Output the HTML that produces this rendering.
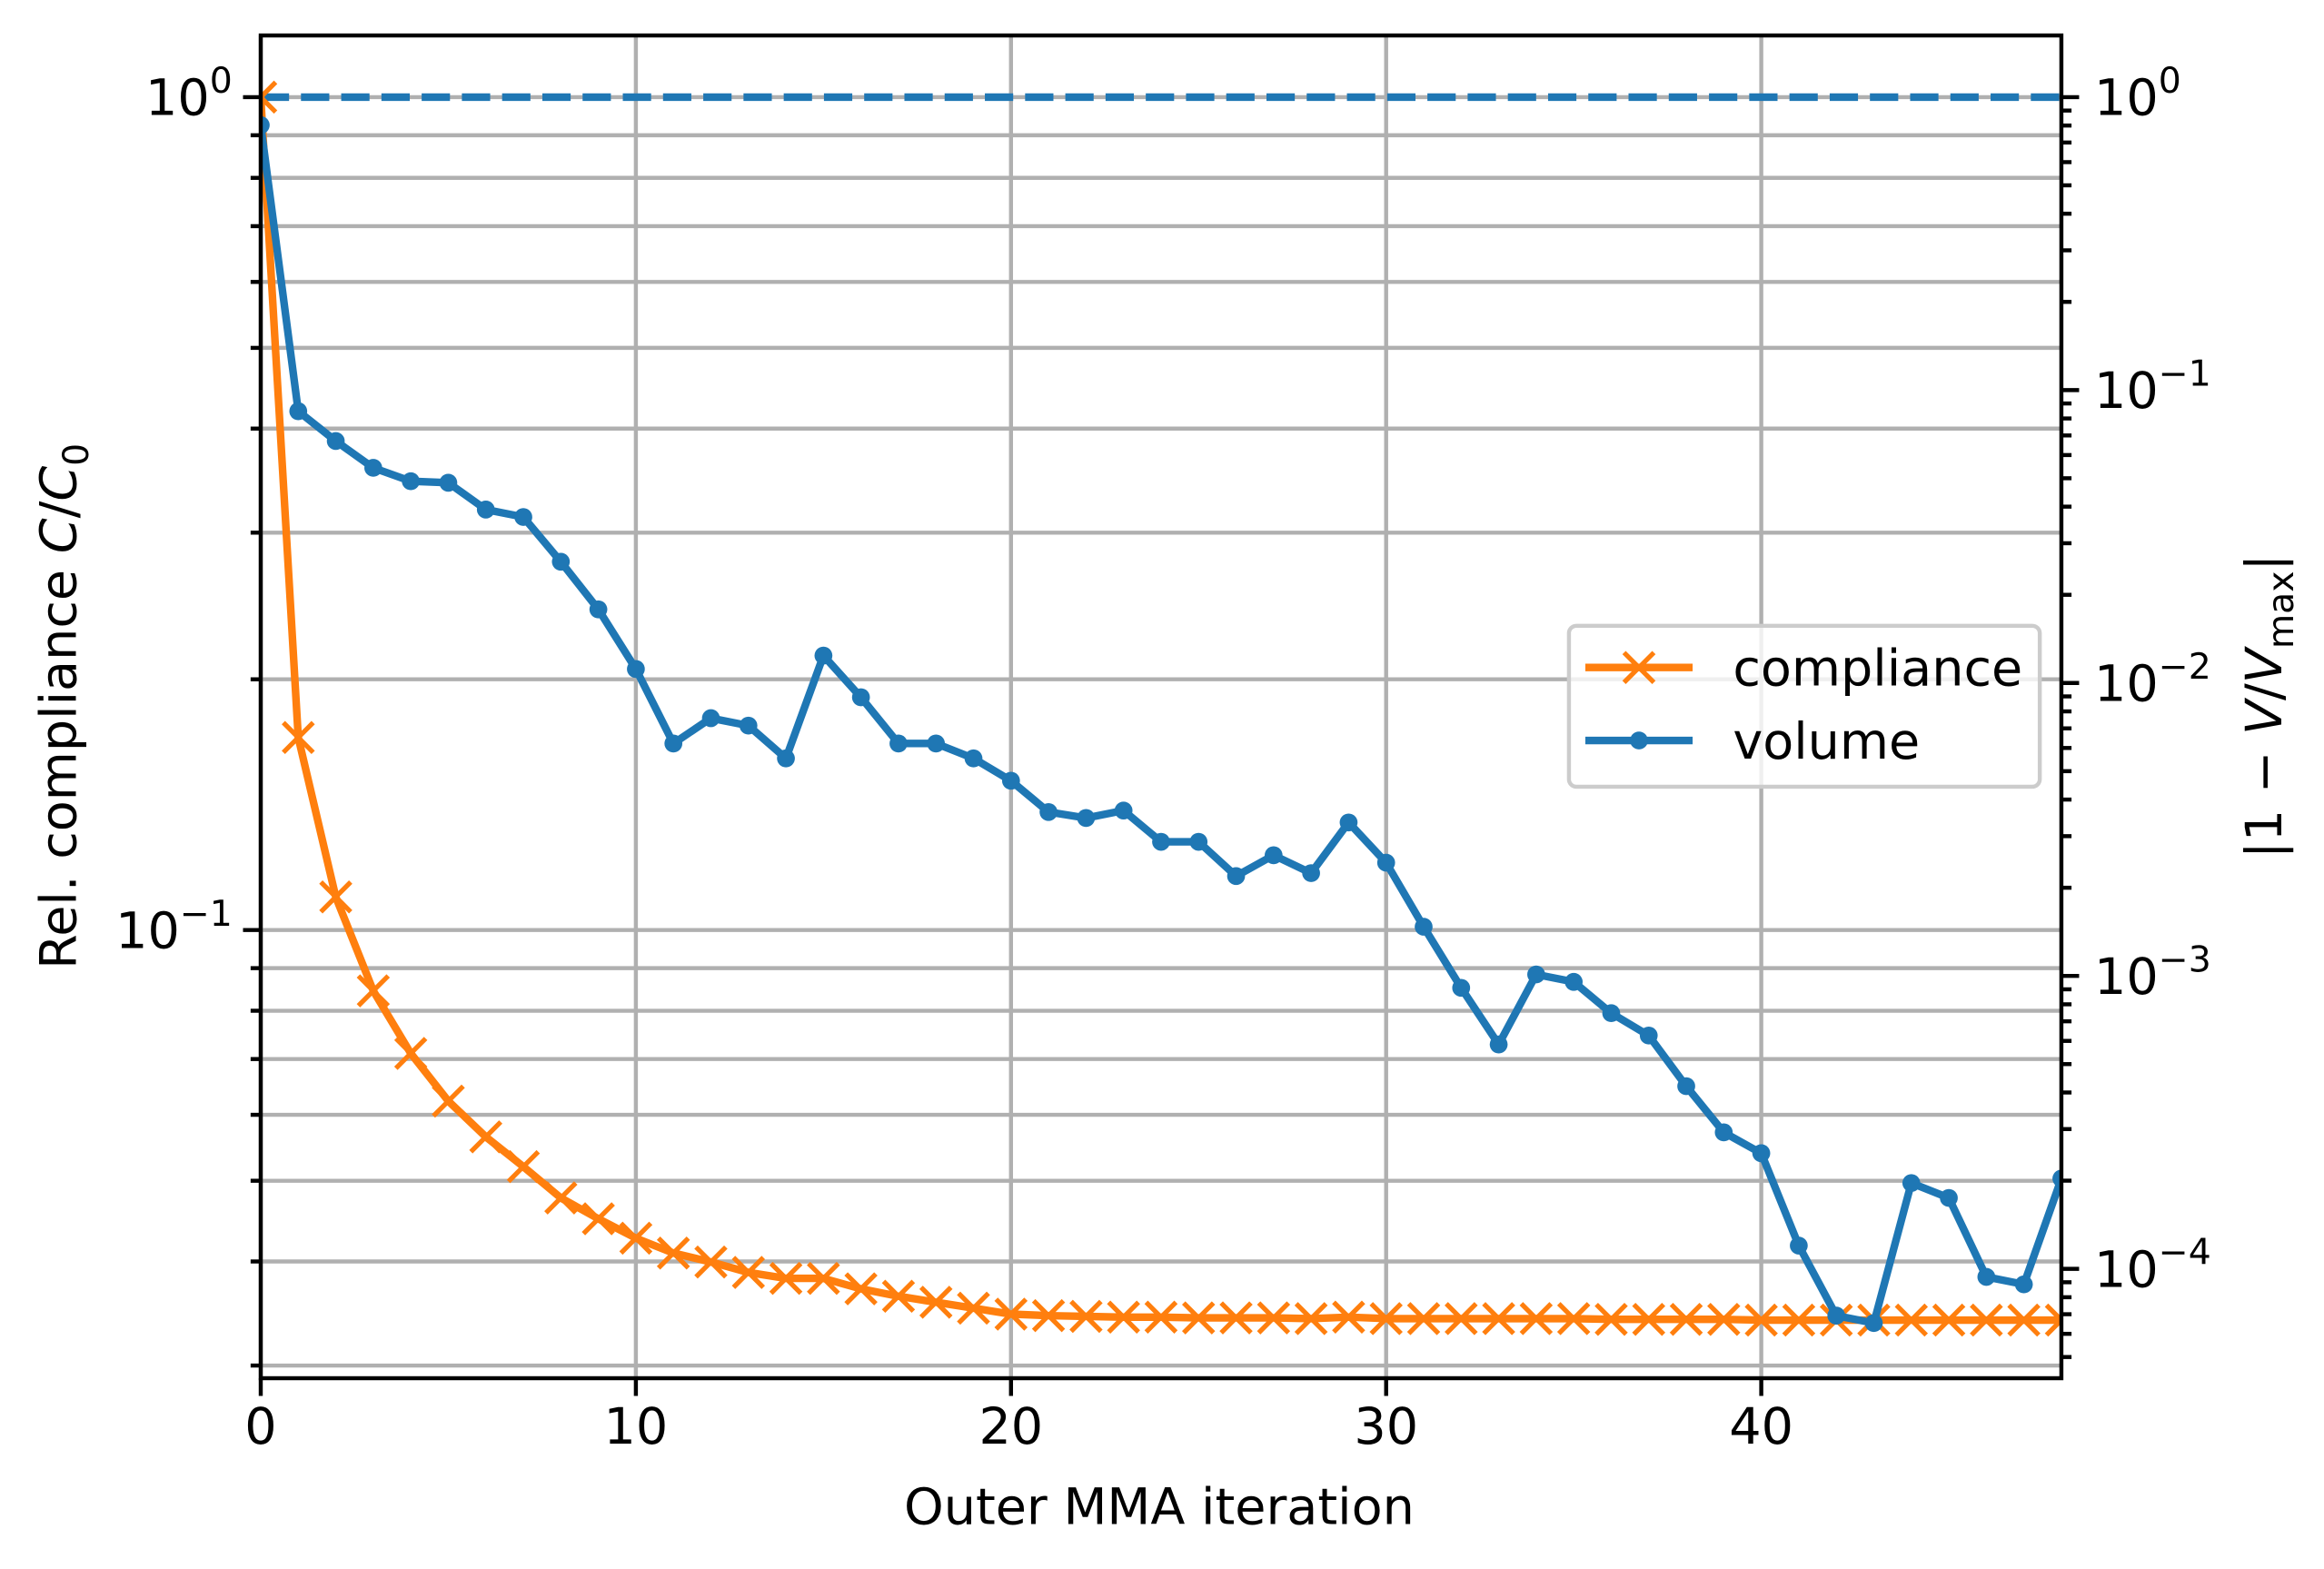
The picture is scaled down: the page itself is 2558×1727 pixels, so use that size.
<!DOCTYPE html>
<html><head><meta charset="utf-8"><style>html,body{margin:0;padding:0;background:#fff}svg{display:block}text{font-family:"DejaVu Sans","Liberation Sans",sans-serif;fill:#000}</style></head>
<body>
<svg id="s" xmlns="http://www.w3.org/2000/svg" width="2558" height="1727" viewBox="0 0 1559.76 1053.05"></svg>
<script>
const s=document.getElementById('s');
const L=175,R=1383.5,T=23.8,B=925;
const X=i=>L+(R-L)*i/48;
const YL=v=>65.2-559*Math.log10(v);
const YR=v=>65.2-196.6*Math.log10(v);
let h='';
h+=`<defs><clipPath id="c"><rect x="${L}" y="${T}" width="${R-L}" height="${B-T}"/></clipPath></defs>`;
for(let i=0;i<=40;i+=10)h+=`<line x1="${X(i)}" x2="${X(i)}" y1="${T}" y2="${B}" stroke="#b0b0b0" stroke-width="2.7"/>`;
let lt=[];
for(let k=-2;k<=0;k++)for(let m=1;m<=9;m++){const v=m*Math.pow(10,k);const y=YL(v);if(y>T&&y<B)lt.push([y,m==1]);}
lt.forEach(([y,maj])=>{h+=`<line x1="${L}" x2="${R}" y1="${y}" y2="${y}" stroke="#b0b0b0" stroke-width="2.7"/>`;
h+=`<line x1="${L}" x2="${L-(maj?11.9:6.8)}" y1="${y}" y2="${y}" stroke="#000" stroke-width="2.7"/>`;});
for(let k=-5;k<=0;k++)for(let m=1;m<=9;m++){const v=m*Math.pow(10,k);const y=YR(v);if(y>T&&y<B){h+=`<line x1="${R}" x2="${R+(m==1?11.9:6.8)}" y1="${y}" y2="${y}" stroke="#000" stroke-width="2.7"/>`;
if(m==1){h+=`<text x="${R+22}" y="${y+12}" font-size="33.9">10<tspan dy="-15" font-size="24">${k==0?'0':'−'+(-k)}</tspan></text>`;}}}
[[0,'0'],[-1,'−1']].forEach(([k,t])=>{const y=YL(Math.pow(10,k));h+=`<text x="${L-19}" y="${y+12}" font-size="33.9" text-anchor="end">10<tspan dy="-15" font-size="24">${t}</tspan></text>`;});
for(let i=0;i<=40;i+=10){h+=`<line x1="${X(i)}" x2="${X(i)}" y1="${B}" y2="${B+11.9}" stroke="#000" stroke-width="2.7"/><text x="${X(i)}" y="${B+44}" font-size="33.9" text-anchor="middle">${i}</text>`;}
const comp=[65,497,604,667,709,741,765,785,806,820,833,843,849,856,860,860,867,872,876,880,884,885,885.5,886,886,886.5,886.5,886.5,887,886,887,887,887,887,887,887,887.5,887.5,887.5,887.5,888,888,888,888,888,888,888,888,888].map(y=>y-2);
const vol=[85,277,297,315,324,325,343,348,378,410,450,500,483,488,510,441,469,500,500,510,525,546,550,545,566,566,589,575,587,553,580,623,664,702,655,660,681,696,730,761,775,837,884,889,795,805,858,863,792].map(y=>y-1);
comp[0]=65.2;
let g=`<g clip-path="url(#c)">`;
g+=`<line x1="${L}" x2="${R}" y1="65.2" y2="65.2" stroke="#1f77b4" stroke-width="5.1" stroke-dasharray="19 8"/>`;
g+=`<polyline fill="none" stroke="#ff7f0e" stroke-width="5.1" stroke-linejoin="round" points="${comp.map((y,i)=>X(i)+','+y).join(' ')}"/>`;
comp.forEach((y,i)=>{const x=X(i),d=10;g+=`<path d="M${x-d},${y-d}L${x+d},${y+d}M${x-d},${y+d}L${x+d},${y-d}" stroke="#ff7f0e" stroke-width="3.2"/>`;});
g+=`<polyline fill="none" stroke="#1f77b4" stroke-width="5.1" stroke-linejoin="round" points="${vol.map((y,i)=>X(i)+','+y).join(' ')}"/>`;
vol.forEach((y,i)=>{g+=`<circle cx="${X(i)}" cy="${y}" r="6" fill="#1f77b4"/>`;});
g+=`</g>`;h+=g;
h+=`<rect x="${L}" y="${T}" width="${R-L}" height="${B-T}" fill="none" stroke="#000" stroke-width="2.7"/>`;
h+=`<rect x="1053" y="420" width="316" height="108" rx="5" fill="#fff" fill-opacity="0.8" stroke="#ccc" stroke-width="2.7"/>`;
h+=`<line x1="1064" x2="1136" y1="448" y2="448" stroke="#ff7f0e" stroke-width="5.1"/><path d="M1090,438L1110,458M1090,458L1110,438" stroke="#ff7f0e" stroke-width="3.2"/>`;
h+=`<text x="1163" y="460" font-size="33.9">compliance</text>`;
h+=`<line x1="1064" x2="1136" y1="497" y2="497" stroke="#1f77b4" stroke-width="5.1"/><circle cx="1100" cy="497" r="6" fill="#1f77b4"/>`;
h+=`<text x="1163" y="509" font-size="33.9">volume</text>`;
h+=`<text x="778" y="1023" font-size="33.9" text-anchor="middle">Outer MMA iteration</text>`;
h+=`<text transform="translate(51,474) rotate(-90)" font-size="33.9" text-anchor="middle">Rel. compliance <tspan font-style="italic">C</tspan>/<tspan font-style="italic">C</tspan><tspan font-size="24" dy="8">0</tspan></text>`;
h+=`<text transform="translate(1531,474) rotate(-90)" font-size="33.9" text-anchor="middle">|1 − <tspan font-style="italic">V</tspan>/<tspan font-style="italic">V</tspan><tspan font-size="24" dy="8">max</tspan><tspan dy="-8">|</tspan></text>`;
s.innerHTML=h;
</script>
</body></html>
